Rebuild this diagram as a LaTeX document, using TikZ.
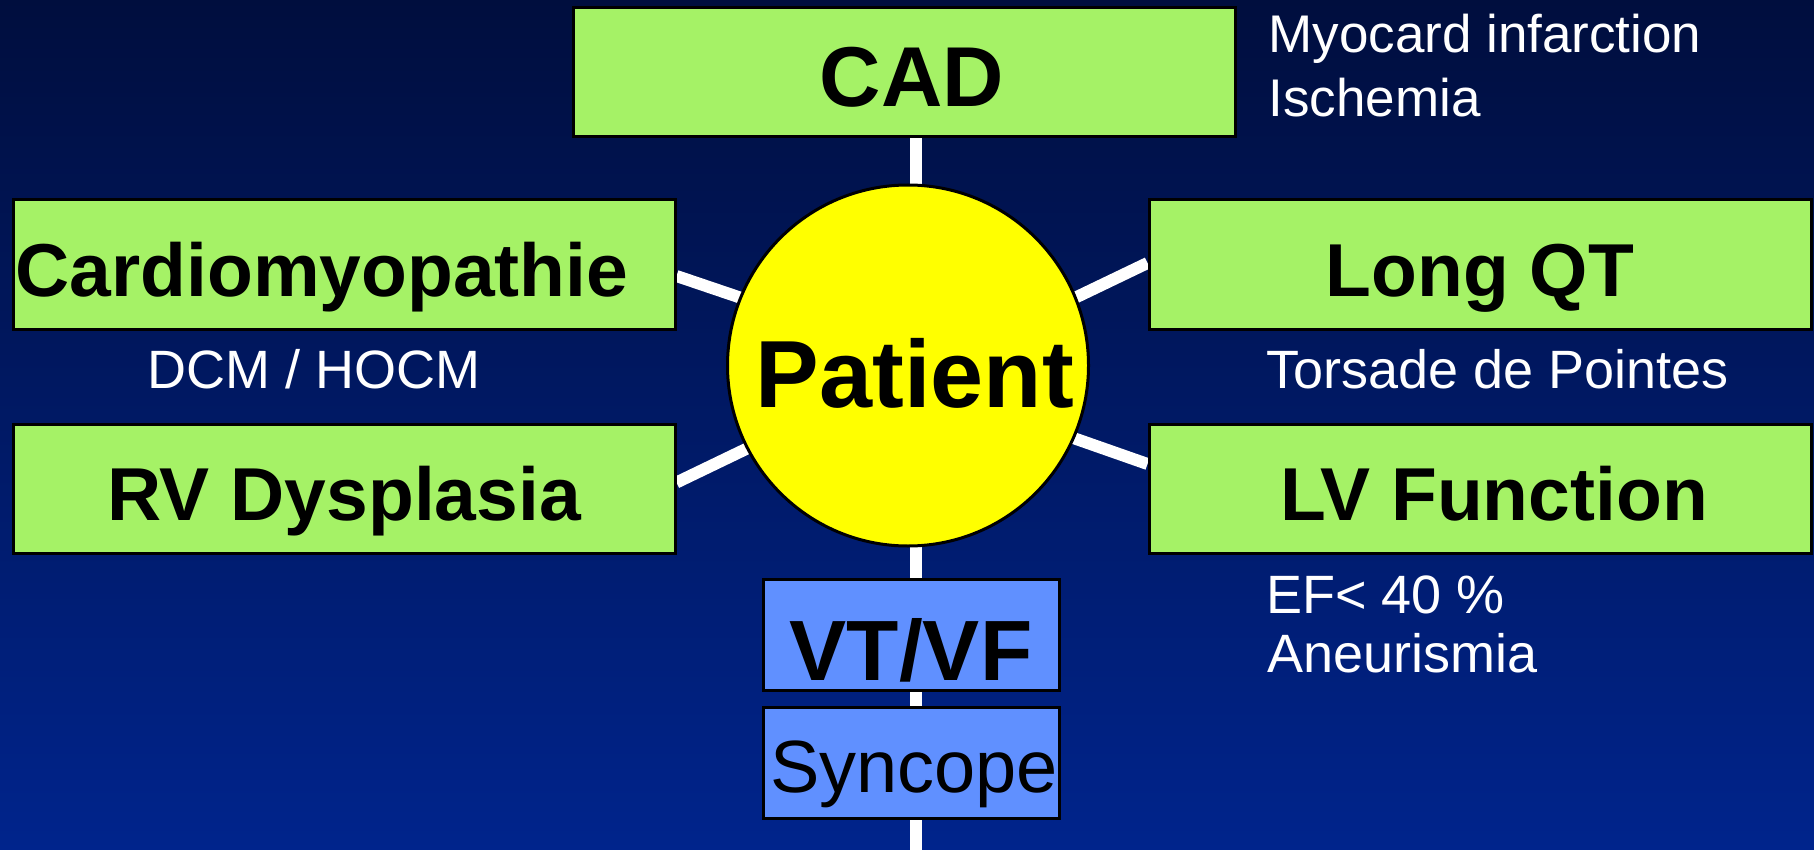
\documentclass[tikz,border=0pt]{standalone}
\usepackage{fontspec}
\setmainfont{Liberation Sans}
\usetikzlibrary{calc}
\definecolor{bgtop}{RGB}{0,14,62}
\definecolor{bgbot}{RGB}{0,36,140}
\definecolor{boxgreen}{RGB}{165,242,102}
\definecolor{boxblue}{RGB}{96,144,255}
\definecolor{patyellow}{RGB}{255,255,0}
\pgfdeclarelayer{back}
\pgfdeclarelayer{lines}
\pgfsetlayers{back,lines,main}
\begin{document}
\begin{tikzpicture}[x=0.5pt,y=-0.5pt,
  greenbox/.style={draw=black,line width=1.5pt,fill=boxgreen,minimum width=331pt,minimum height=64.5pt,inner sep=0pt,text depth=0pt,text height=31.5pt,font=\bfseries\fontsize{37.5}{44}\selectfont},
  bluebox/.style={draw=black,line width=1.5pt,fill=boxblue,minimum width=148pt,minimum height=55.5pt,inner sep=0pt,text depth=0pt},
  conn/.style={draw=white,line width=6pt},
  note/.style={text=white,anchor=base west,inner sep=0pt,font=\fontsize{27}{32}\selectfont}]
\useasboundingbox (0,0) rectangle (1814,850);
\begin{pgfonlayer}{back}
  \shade[top color=bgtop,bottom color=bgbot] (0,0) rectangle (1814,850);
\end{pgfonlayer}

\node[greenbox,font=\bfseries\fontsize{42.5}{50}\selectfont,text height=34pt] (cad) at (904,72.5) {\hspace*{8pt}CAD};
\node[greenbox] (cm) at (344,264.5) {Cardiomyopathie\hspace*{22pt}};
\node[greenbox] (rv) at (344,489) {RV Dysplasia};
\node[greenbox] (lqt) at (1480,264.5) {Long QT};
\node[greenbox] (lv) at (1480,489) {\hspace*{14pt}LV Function};
\node[circle,draw=black,line width=1.5pt,fill=patyellow,minimum size=180.5pt,inner sep=0pt,text depth=0pt,text height=41.5pt,font=\bfseries\fontsize{47.7}{56}\selectfont] (pat) at (908,365.5) {\hspace*{7pt}Patient};
\node[bluebox,text height=45.5pt,font=\bfseries\fontsize{42.8}{50}\selectfont] (vt) at (911,634.5) {VT/VF};
\node[bluebox,text height=29.5pt,font=\fontsize{37}{44}\selectfont] (syn) at (911,762.5) {\hspace*{3pt}Syncope};

\node[note,font=\fontsize{26.5}{31}\selectfont] (mi) at (1268,53) {Myocard infarction};
\node[note,font=\fontsize{26.5}{31}\selectfont] (isch) at (1268,117) {Ischemia};
\node[note] (dcm) at (147,388) {DCM / HOCM};
\node[note] (tdp) at (1266,388) {Torsade de Pointes};
\node[note] (ef) at (1266,613) {EF< 40 \%};
\node[note] (an) at (1267,672) {Aneurismia};

\begin{pgfonlayer}{lines}
  \coordinate (bot) at (916,850);
  \draw[conn] (cad.south -| bot) -- (bot);
  \draw[conn] ($(cm.east)+(0,11.5)$) -- ($(pat.center)+(0,-11)$);
  \draw[conn] ($(rv.east)+(0,-6.5)$) -- ($(pat.center)+(0,5.5)$);
  \draw[conn] ($(lqt.west)+(0,-1.5)$) -- ($(pat.center)+(0,12.5)$);
  \draw[conn] ($(lv.west)+(0,-25)$) -- ($(pat.center)+(0,14.5)$);
\end{pgfonlayer}
\end{tikzpicture}
\end{document}
